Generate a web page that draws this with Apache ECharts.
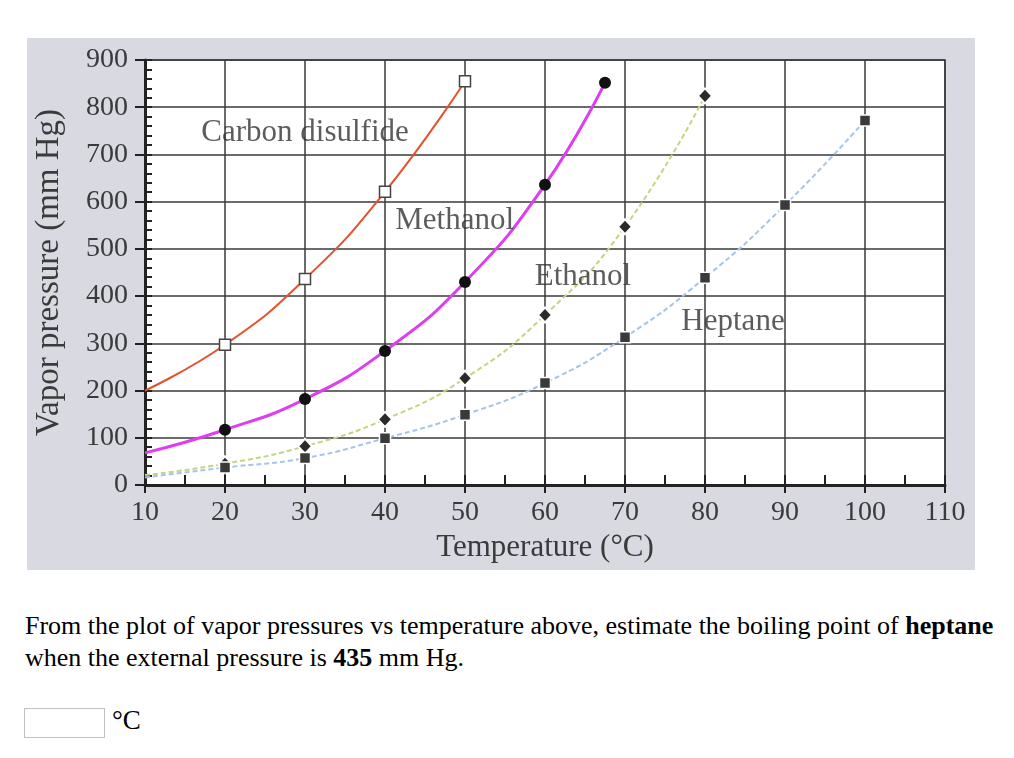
<!DOCTYPE html>
<html>
<head>
<meta charset="utf-8">
<script src="https://cdn.jsdelivr.net/npm/echarts@6/dist/echarts.min.js"></script>
<style>
  html, body { margin: 0; padding: 0; background: #fff; }
  #chart { position: absolute; left: 0; top: 0; width: 1014px; height: 590px; }
  .q { position: absolute; left: 25px; font-family: "Liberation Serif", "Times New Roman", serif; font-size: 26px; color: #000; white-space: nowrap; }
  #box { position: absolute; left: 24px; top: 708px; width: 79px; height: 28px; border: 1px solid #c0c0c0; background: #fff; }
  #unit { position: absolute; left: 112px; top: 705px; font-family: "Liberation Serif", serif; font-size: 27px; color: #000; }
</style>
</head>
<body>
<div id="chart"></div>
<div class="q" style="top:611px">From the plot of vapor pressures vs temperature above, estimate the boiling point of <b>heptane</b></div>
<div class="q" style="top:643px">when the external pressure is <b>435</b> mm Hg.</div>
<div id="box"></div>
<div id="unit">°C</div>
<script>
// ---- data ----
const xTicks = [10, 20, 30, 40, 50, 60, 70, 80, 90, 100, 110];
const yTicks = [0, 100, 200, 300, 400, 500, 600, 700, 800, 900];

const cs2Temp = [10, 20, 30, 40, 50];
const cs2Pres = [200, 297, 436, 621, 855];

const methTemp = [10, 20, 30, 40, 50, 60, 67.5];
const methPres = [68, 117, 182, 284, 430, 636, 852];

const ethTemp = [10, 20, 30, 40, 50, 60, 70, 80];
const ethPres = [21, 45, 82, 139, 226, 360, 547, 824];

const hepTemp = [10, 20, 30, 40, 50, 60, 70, 80, 90, 100];
const hepPres = [16, 37, 57, 99, 149, 216, 313, 439, 593, 772];

const seriesNames = ['Carbon disulfide', 'Methanol', 'Ethanol', 'Heptane'];
const nameTemp = [30, 48.7, 64.75, 83.5];
const namePres = [745, 559, 440, 345];

// ---- helpers ----
const pairs = (xs, ys) => xs.map((x, i) => [x, ys[i]]);
const SERIF = '"Liberation Serif", "Times New Roman", serif';

const chart = echarts.init(document.getElementById('chart'), null, { renderer: 'canvas' });

function lineSeries(xs, ys, color, width, type) {
  return {
    type: 'line', xAxisIndex: 0, yAxisIndex: 0,
    data: pairs(xs, ys), smooth: 0.5,
    symbol: 'none', z: 3,
    lineStyle: { color: color, width: width, type: type }
  };
}
function markerSeries(xs, ys, symbol, size, fill, border, bw) {
  return {
    type: 'scatter', xAxisIndex: 0, yAxisIndex: 0,
    data: pairs(xs.slice(1), ys.slice(1)), symbol: symbol, symbolSize: size, z: 4,
    itemStyle: { color: fill, borderColor: border, borderWidth: bw, opacity: 1 },
    emphasis: { disabled: true }
  };
}

const option = {
  animation: false,
  graphic: [{
    type: 'rect', z: -10, silent: true,
    shape: { x: 27, y: 38, width: 948, height: 532 },
    style: { fill: '#d8d9e1' }
  }],
  grid: {
    left: 145, top: 60, width: 800, height: 425,
    show: true, backgroundColor: '#ffffff', borderColor: '#3a3a3a', borderWidth: 1.5
  },
  xAxis: [{
    type: 'value', min: xTicks[0], max: xTicks[xTicks.length - 1], interval: 10, position: 'bottom',
    axisLine: { show: true, onZero: false, lineStyle: { color: '#222', width: 3 } },
    axisTick: { show: true, inside: false, length: 8, lineStyle: { color: '#222', width: 2 } },
    axisLabel: { margin: 14, fontFamily: SERIF, fontSize: 28, color: '#3a3a3a' },
    splitLine: { show: true, lineStyle: { color: '#3a3a3a', width: 1.5 } },
    name: 'Temperature (°C)', nameLocation: 'middle', nameGap: 44,
    nameTextStyle: { fontFamily: SERIF, fontSize: 31, color: '#3a3a3a' }
  }, {
    type: 'value', min: xTicks[0], max: xTicks[xTicks.length - 1], interval: 5, position: 'bottom',
    axisLine: { show: false, onZero: false },
    axisTick: { show: true, inside: true, length: 10, lineStyle: { color: '#222', width: 2 } },
    axisLabel: { show: false }, splitLine: { show: false }
  }],
  yAxis: [{
    type: 'value', min: yTicks[0], max: yTicks[yTicks.length - 1], interval: 100, position: 'left',
    axisLine: { show: true, onZero: false, lineStyle: { color: '#222', width: 3 } },
    axisTick: { show: true, inside: false, length: 10, lineStyle: { color: '#222', width: 2 } },
    axisLabel: { margin: 17, fontFamily: SERIF, fontSize: 28, color: '#3a3a3a' },
    splitLine: { show: true, lineStyle: { color: '#3a3a3a', width: 1.5 } },
    name: 'Vapor pressure (mm Hg)', nameLocation: 'middle', nameGap: 79,
    nameTextStyle: { fontFamily: SERIF, fontSize: 33, color: '#3a3a3a' }
  }, {
    type: 'value', min: yTicks[0], max: yTicks[yTicks.length - 1], interval: 20, position: 'left',
    axisLine: { show: false, onZero: false },
    axisTick: { show: true, inside: true, length: 7, lineStyle: { color: '#222', width: 2 } },
    axisLabel: { show: false }, splitLine: { show: false }
  }],
  series: [
    lineSeries(cs2Temp, cs2Pres, '#e4522e', 2, 'solid'),
    lineSeries(methTemp, methPres, '#dd3ef0', 3, 'solid'),
    lineSeries(ethTemp, ethPres, '#c3d482', 2, [5, 3]),
    lineSeries(hepTemp, hepPres, '#a6c4ea', 2, [5, 3]),
    markerSeries(cs2Temp, cs2Pres, 'rect', 11, '#ffffff', '#444', 1.5),
    markerSeries(methTemp, methPres, 'circle', 12, '#111111', '#111111', 0),
    markerSeries(ethTemp, ethPres, 'diamond', [14, 15], '#2a2a2a', '#ffffff', 2),
    markerSeries(hepTemp, hepPres, 'rect', 11, '#3a3a3a', '#ffffff', 1.5),
    {
      type: 'scatter', xAxisIndex: 0, yAxisIndex: 0, symbolSize: 0, z: 5,
      data: seriesNames.map((n, i) => ({ value: [nameTemp[i], namePres[i]], name: n })),
      label: {
        show: true, position: 'inside', formatter: p => p.name,
        fontFamily: SERIF, fontSize: 31, color: '#333'
      },
      emphasis: { disabled: true }
    }
  ]
};
chart.setOption(option);
</script>
</body>
</html>
